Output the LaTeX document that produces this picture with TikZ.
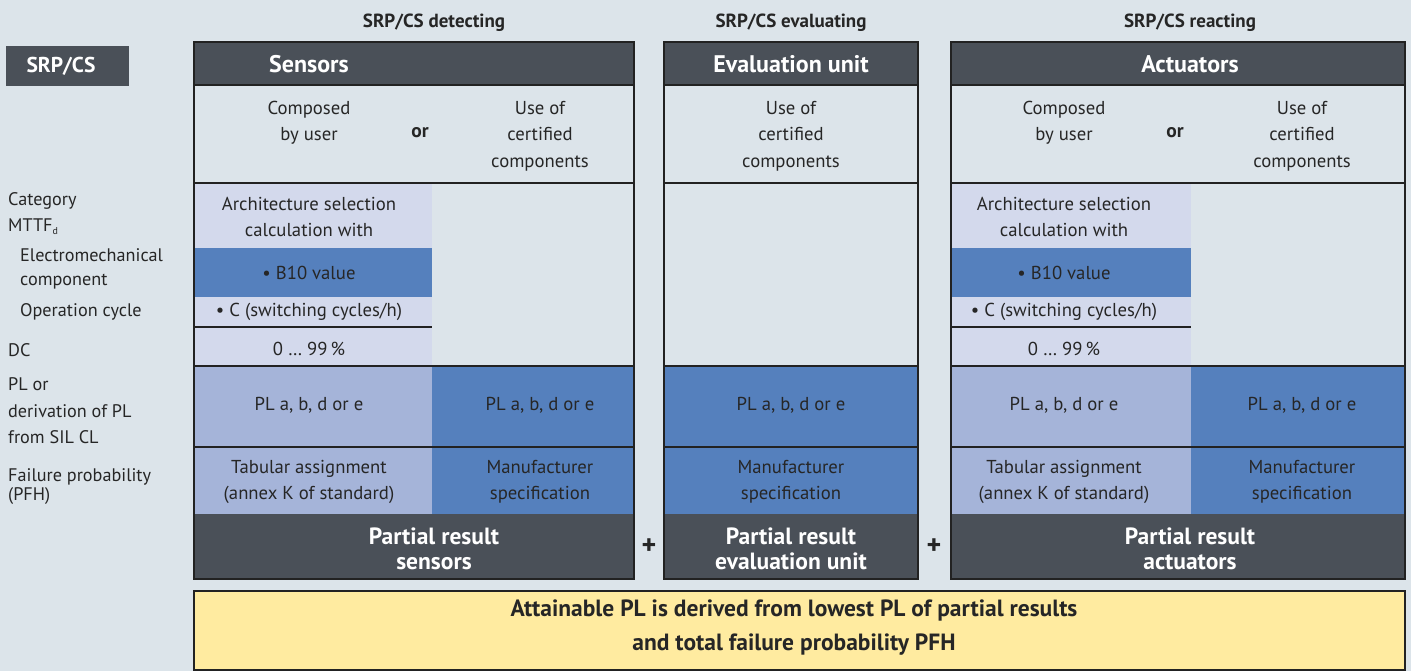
\documentclass[tikz,border=0pt]{standalone}
\usepackage{fontspec}
\setmainfont{PT Sans}
\definecolor{bg}{HTML}{DCE4EA}
\definecolor{dark}{HTML}{4A5058}
\definecolor{lav}{HTML}{D3D9EC}
\definecolor{midblue}{HTML}{5580BD}
\definecolor{lblue}{HTML}{A5B4D9}
\definecolor{yel}{HTML}{FFEBA0}
\definecolor{edge}{HTML}{222222}
\definecolor{ink}{HTML}{262626}
\begin{document}
\begin{tikzpicture}[x=1pt,y=-1pt,
  txt/.style={align=center,font=\fontsize{18.7}{26.5}\selectfont,text=ink,inner sep=0pt},
  lbl/.style={anchor=west,align=left,font=\fontsize{18.2}{26.5}\selectfont,text=ink,inner sep=0pt},
  toplbl/.style={font=\fontsize{19}{22}\selectfont\bfseries,text=ink,inner sep=0pt},
  hdr/.style={font=\fontsize{24}{28}\selectfont\bfseries,text=white,inner sep=0pt},
  res/.style={align=center,font=\fontsize{23.5}{25}\selectfont\bfseries,text=white,inner sep=0pt},
  ortxt/.style={font=\fontsize{19.5}{22}\selectfont\bfseries,text=ink,inner sep=0pt},
  plus/.style={font=\fontsize{28}{28}\selectfont\bfseries,text=ink,inner sep=0pt},
  frame/.style={draw=edge,line width=2pt},
  sep/.style={draw=edge,line width=1.6pt},
  thin/.style={draw=edge,line width=1.2pt}]
\useasboundingbox (0,0) rectangle (1411,671);
\fill[bg] (0,0) rectangle (1411,671);

% ---------- top labels ----------
\node[toplbl] (tdet) at (434,22.5) {SRP/CS detecting};
\node[toplbl] (teva) at (791,22.5) {SRP/CS evaluating};
\node[toplbl] (trea) at (1190,22.5) {SRP/CS reacting};

% ---------- SRP/CS tag ----------
\fill[dark] (6,46) rectangle (129,86);
\node[hdr,font=\fontsize{21.5}{24}\selectfont\bfseries] (srp) at (61,66) {SRP/CS};

% ---------- left labels ----------
\node[lbl] (lcat) at (8,200.5) {Category};
\node[lbl] (lmttf) at (8,226.5) {MTTF\raisebox{-0.35ex}{\fontsize{10}{10}\selectfont d}};
\node[lbl] (lelec) at (20,255) {Electromechanical};
\node[lbl] (lcomp) at (20,282) {component};
\node[lbl] (lop) at (20,312) {Operation cycle};
\node[lbl] (ldc) at (8,350) {DC};
\node[lbl] (lpl) at (8,411) {PL or\\derivation of PL\\from SIL CL};
\node[lbl,font=\fontsize{18.2}{19.5}\selectfont] (lfail) at (8,486.5) {Failure probability\\(PFH)};

% ---------- Sensors ----------
\fill[dark] (194,42) rectangle (634,85);
\fill[lav] (194,183) rectangle (432,366);
\fill[midblue] (194,248) rectangle (432,297);
\fill[lblue] (194,366) rectangle (432,514);
\fill[midblue] (432,366) rectangle (634,514);
\fill[dark] (194,514) rectangle (634,579);
\draw[thin] (194,327) -- (432,327);
\draw[sep] (194,85) -- (634,85);
\draw[sep] (194,183) -- (634,183);
\draw[sep] (194,366) -- (634,366);
\draw[sep] (194,447) -- (634,447);
\draw[frame] (194,42) rectangle (634,579);
\node[hdr] (sens) at (309,64) {Sensors};
\node[txt] (scomp) at (309,123) {Composed\\by user};
\node[ortxt] (sor) at (420,133) {or};
\node[txt] (suse) at (540,136) {Use of\\certified\\components};
\node[txt] (sarch) at (309,217) {Architecture selection\\calculation with};
\node[txt] (sb10) at (309,273) {\textbullet\ B10 value};
\node[txt] (sc) at (309,312) {\textbullet\ C (switching cycles/h)};
\node[txt] (sdc) at (309,349) {0 \dots\ 99\,\%};
\node[txt] (spl1) at (309,405) {PL a, b, d or e};
\node[txt] (spl2) at (540,405) {PL a, b, d or e};
\node[txt] (stab) at (309,482) {Tabular assignment\\(annex K of standard)};
\node[txt] (sman) at (540,482) {Manufacturer\\specification};
\node[res] (sres) at (434,549) {Partial result\\sensors};

% ---------- plus signs ----------
\node[plus] (p1) at (649,547) {+};
\node[plus] (p2) at (934,547) {+};

% ---------- Evaluation unit ----------
\fill[dark] (664,42) rectangle (918,85);
\fill[midblue] (664,366) rectangle (918,514);
\fill[dark] (664,514) rectangle (918,579);
\draw[sep] (664,85) -- (918,85);
\draw[sep] (664,183) -- (918,183);
\draw[sep] (664,366) -- (918,366);
\draw[sep] (664,447) -- (918,447);
\draw[frame] (664,42) rectangle (918,579);
\node[hdr] (eval) at (791,64) {Evaluation unit};
\node[txt] (euse) at (791,136) {Use of\\certified\\components};
\node[txt] (epl) at (791,405) {PL a, b, d or e};
\node[txt] (eman) at (791,482) {Manufacturer\\specification};
\node[res] (eres) at (791,549) {Partial result\\evaluation unit};

% ---------- Actuators ----------
\fill[dark] (951,42) rectangle (1405,85);
\fill[lav] (951,183) rectangle (1191,366);
\fill[midblue] (951,248) rectangle (1191,297);
\fill[lblue] (951,366) rectangle (1191,514);
\fill[midblue] (1191,366) rectangle (1405,514);
\fill[dark] (951,514) rectangle (1405,579);
\draw[thin] (951,327) -- (1191,327);
\draw[sep] (951,85) -- (1405,85);
\draw[sep] (951,183) -- (1405,183);
\draw[sep] (951,366) -- (1405,366);
\draw[sep] (951,447) -- (1405,447);
\draw[frame] (951,42) rectangle (1405,579);
\node[hdr] (act) at (1190,64) {Actuators};
\node[txt] (acomp) at (1064,123) {Composed\\by user};
\node[ortxt] (aor) at (1175,133) {or};
\node[txt] (ause) at (1302,136) {Use of\\certified\\components};
\node[txt] (aarch) at (1064,217) {Architecture selection\\calculation with};
\node[txt] (ab10) at (1064,273) {\textbullet\ B10 value};
\node[txt] (ac) at (1064,312) {\textbullet\ C (switching cycles/h)};
\node[txt] (adc) at (1064,349) {0 \dots\ 99\,\%};
\node[txt] (apl1) at (1064,405) {PL a, b, d or e};
\node[txt] (apl2) at (1302,405) {PL a, b, d or e};
\node[txt] (atab) at (1064,482) {Tabular assignment\\(annex K of standard)};
\node[txt] (aman) at (1302,482) {Manufacturer\\specification};
\node[res] (ares) at (1190,549) {Partial result\\actuators};

% ---------- result ----------
\draw[fill=yel,draw=edge,line width=1.2pt] (194,591) rectangle (1405,670);
\node[res,text=ink,font=\fontsize{23.5}{34}\selectfont\bfseries] (final) at (794,628) {Attainable PL is derived from lowest PL of partial results\\and total failure probability PFH};
\end{tikzpicture}
\end{document}
